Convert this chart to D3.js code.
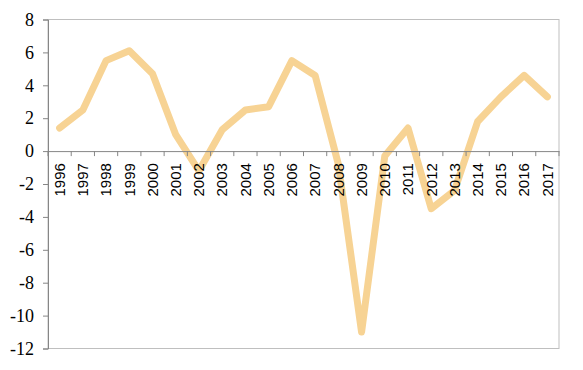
<!DOCTYPE html>
<html>
<head>
<meta charset="utf-8">
<script src="https://cdn.jsdelivr.net/npm/d3@7"></script>
<style>
  body { margin: 0; background: #fff; }
</style>
</head>
<body>
<div id="chart"></div>
<script>
(function () {

  var years = ['1996', '1997', '1998', '1999', '2000', '2001', '2002', '2003', '2004', '2005',
    '2006', '2007', '2008', '2009', '2010', '2011', '2012', '2013', '2014', '2015', '2016', '2017']
  var values = [1.4, 2.5, 5.5, 6.1, 4.7, 1.0, -1.2, 1.3, 2.5, 2.7,
    5.5, 4.6, -0.8, -11.0, -0.3, 1.4, -3.5, -2.4, 1.8, 3.3, 4.6, 3.3]
  var yTicks = [-12, -10, -8, -6, -4, -2, 0, 2, 4, 6, 8]

  var margin = { top: 19.5, right: 24, bottom: 21.5, left: 48 }
  var width = 583 - margin.left - margin.right,
      height = 370 - margin.top - margin.bottom

  var svg = d3.select('#chart').append('svg')
    .attr('width', 583)
    .attr('height', 370)
    .append('g')
    .attr('transform', 'translate(' + margin.left + ',' + margin.top + ')')

  var xPositionScale = d3.scaleBand()
    .domain(years)
    .range([0, width])

  var yPositionScale = d3.scaleLinear()
    .domain([-12, 8])
    .range([height, 0])

  // plot box (light gray top / right / bottom)
  svg.append('rect')
    .attr('x', 0)
    .attr('y', 0)
    .attr('width', width)
    .attr('height', height)
    .attr('fill', 'none')
    .attr('stroke', '#bfbfbf')
    .attr('stroke-width', 1)

  var line = d3.line()
    .x(function (d, i) { return xPositionScale(years[i]) + xPositionScale.bandwidth() / 2 })
    .y(function (d) { return yPositionScale(d) })

  svg.append('path')
    .datum(values)
    .attr('d', line)
    .attr('fill', 'none')
    .attr('stroke', '#f7d394')
    .attr('stroke-width', 7)
    .attr('stroke-linejoin', 'round')
    .attr('stroke-linecap', 'round')

  // plain hyphen for negatives, like the original
  var yAxis = d3.axisLeft(yPositionScale)
    .tickValues(yTicks)
    .tickFormat(function (d) { return String(d) })
    .tickSize(5)
    .tickPadding(9)
  var yg = svg.append('g')
    .attr('class', 'axis y-axis')
    .call(yAxis)
    .attr('font-family', 'Liberation Serif')
    .attr('font-size', 18)
  yg.selectAll('path, line').attr('stroke', '#868686')
  yg.selectAll('text').attr('fill', '#000')

  var xAxis = d3.axisBottom(xPositionScale)
    .tickSize(0)
  var xg = svg.append('g')
    .attr('class', 'axis x-axis')
    .attr('transform', 'translate(0,' + yPositionScale(0) + ')')
    .call(xAxis)
    .attr('font-family', 'Liberation Sans')
    .attr('font-size', 15)
  xg.select('.domain').attr('stroke', '#868686')
  xg.selectAll('.tick text')
    .attr('transform', 'rotate(-90)')
    .attr('x', -12)
    .attr('y', 0)
    .attr('dy', '0.35em')
    .attr('text-anchor', 'end')
    .attr('fill', '#000')

  // tick marks between categories
  var bounds = d3.range(years.length + 1).map(function (i) { return i * xPositionScale.step() })
  xg.selectAll('.sep')
    .data(bounds)
    .enter().append('line')
    .attr('class', 'sep')
    .attr('x1', function (d) { return d })
    .attr('x2', function (d) { return d })
    .attr('y1', 0)
    .attr('y2', 5)
    .attr('stroke', '#868686')

})()
</script>
</body>
</html>
